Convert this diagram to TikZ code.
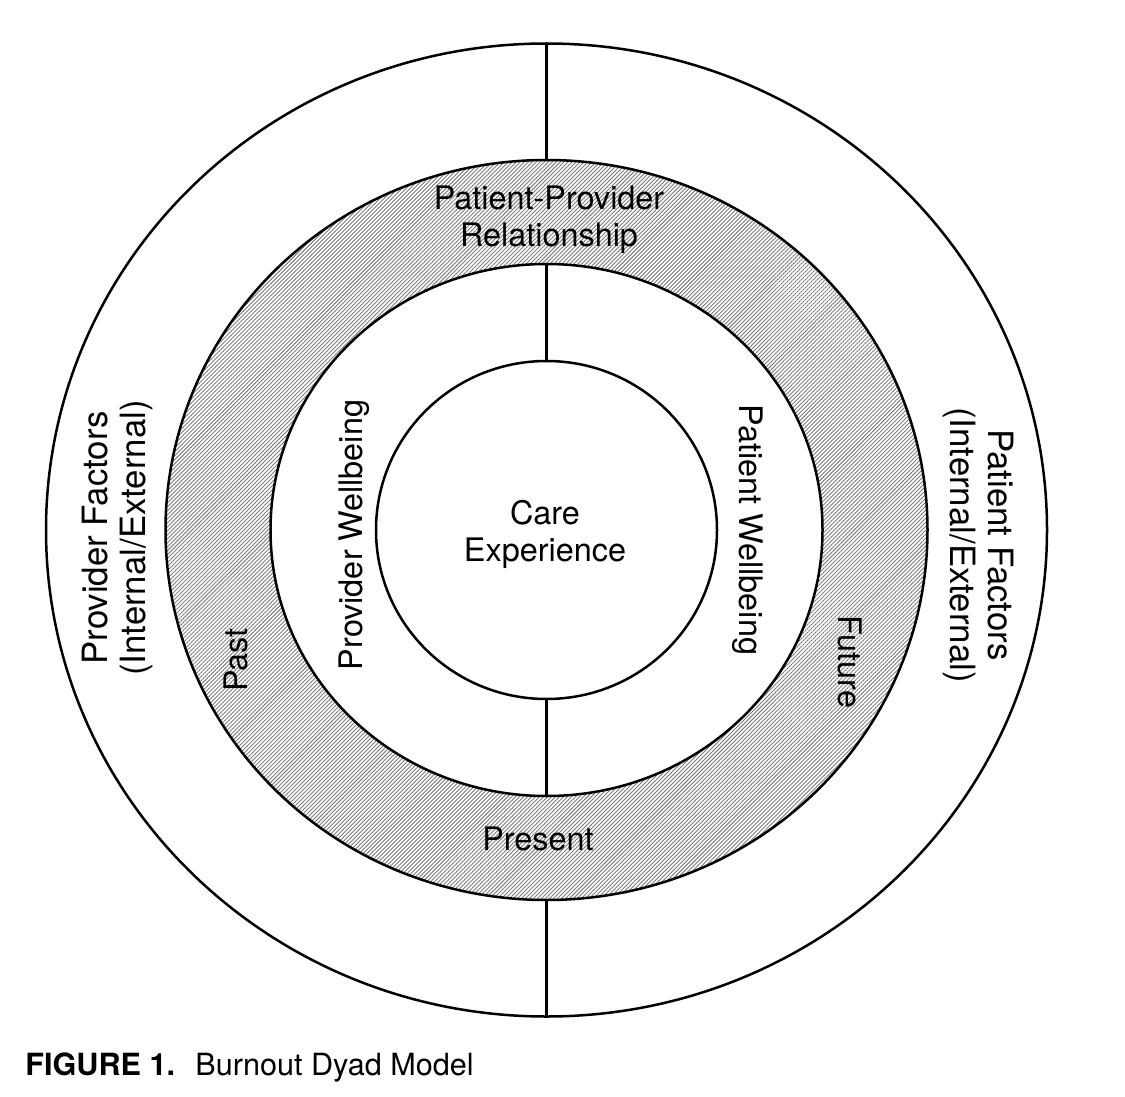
\documentclass[tikz,border=0pt]{standalone}
\usepackage{fontspec}
\setmainfont{TeX Gyre Heros}
\usetikzlibrary{patterns.meta}
\tikzset{
  ring/.style={line width=1.25pt, draw=black},
  hatch/.style={pattern={Lines[angle=45,distance=1.41pt,line width=0.45pt]}, pattern color=black!52},
  lbl/.style={font=\fontsize{16.2}{18.5}\selectfont, align=center, inner sep=0pt},
  biglbl/.style={font=\fontsize{17.4}{19.2}\selectfont, align=center, inner sep=0pt},
  divider/.style={line width=1.1pt, draw=black},
}
\begin{document}
\begin{tikzpicture}[x=0.5pt, y=-0.5pt]
\useasboundingbox (0,0) rectangle (1125,1097);
\coordinate (c) at (546.5,530);
% hatched ring
\path[hatch, even odd rule] (c) ellipse [x radius=190.5pt, y radius=185pt]
                            (c) ellipse [x radius=138pt, y radius=133pt];
% rings
\draw[ring] (c) ellipse [x radius=250.25pt, y radius=243.25pt];
\draw[ring] (c) ellipse [x radius=190.5pt, y radius=185pt];
\draw[ring] (c) ellipse [x radius=138pt, y radius=133pt];
\draw[ring] (c) ellipse [x radius=85.25pt, y radius=84.5pt];
% divider coordinates
\coordinate (o1) at (546.5,43.5);
\coordinate (h1) at (546.5,160);
\coordinate (h2) at (546.5,264);
\coordinate (i1) at (546.5,361);
\coordinate (i2) at (546.5,699);
\coordinate (h3) at (546.5,796);
\coordinate (h4) at (546.5,900);
\coordinate (o2) at (546.5,1016.5);
\draw[divider] (o1) -- (h1);
\draw[divider] (h2) -- (i1);
\draw[divider] (i2) -- (h3);
\draw[divider] (h4) -- (o2);
% labels
\node[lbl] (ppr) at (549,220) {Patient-Provider\\Relationship};
\node[lbl] (care) at (545,534) {Care\\Experience};
\node[lbl] (present) at (538,839) {Present};
\node[lbl, rotate=90] (past) at (236,660) {Past};
\node[lbl, rotate=-90] (future) at (850,662) {Future};
\node[lbl, rotate=90] (provw) at (354,535) {Provider Wellbeing};
\node[lbl, rotate=-90] (patw) at (748,530) {Patient Wellbeing};
\node[biglbl, rotate=90] (provf) at (117.5,538) {Provider Factors\\(Internal/External)};
\node[biglbl, rotate=-90] (patf) at (978.5,545) {Patient Factors\\(Internal/External)};
% caption
\node[font=\fontsize{15.3}{18}\selectfont\bfseries, anchor=base west, inner sep=0pt] (fig) at (25,1075) {FIGURE 1.};
\node[font=\fontsize{15.3}{18}\selectfont, anchor=base west, inner sep=0pt] (title) at (195,1075) {Burnout Dyad Model};
\end{tikzpicture}
\end{document}
